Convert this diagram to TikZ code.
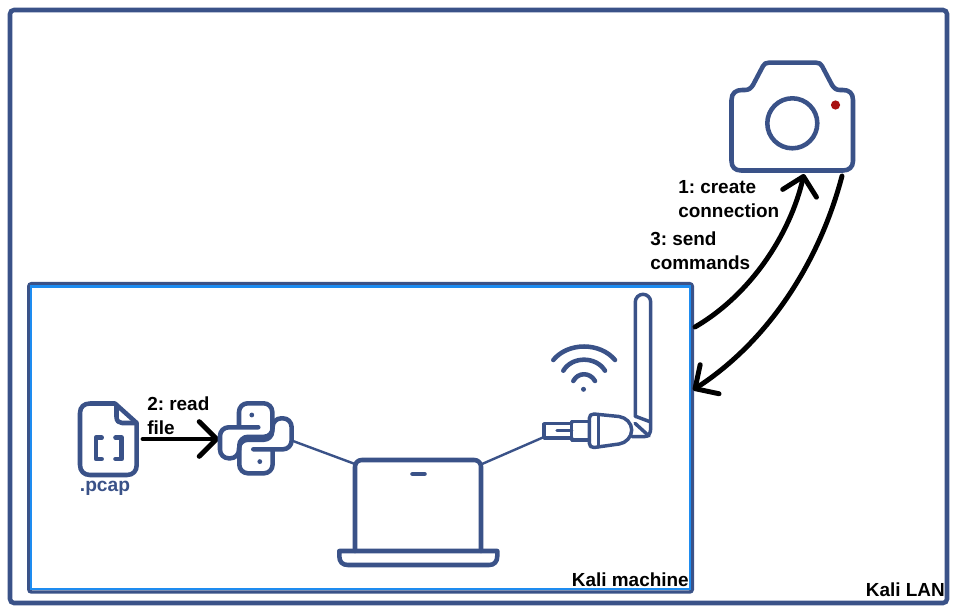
\documentclass[tikz,border=0pt]{standalone}
\usepackage{fontspec}
\setmainfont{Liberation Sans}
\usetikzlibrary{arrows.meta}
\definecolor{navy}{HTML}{3A5288}
\definecolor{brightblue}{HTML}{1E8CF0}
\definecolor{reddot}{HTML}{A81212}
\tikzset{
  icon/.style={draw=navy,line width=3.4pt,line cap=round,line join=round},
  thinicon/.style={draw=navy,line width=2.6pt,line cap=round,line join=round},
  link/.style={draw=navy,line width=1.8pt},
  flow/.style={draw=black,line width=3.7pt,line cap=round,-{Straight Barb[length=13pt,width=26pt,round]}},
  lbl/.style={font=\bfseries\fontsize{14.2}{18}\selectfont,inner sep=0pt,text=black},
}
\begin{document}
\frenchspacing
\begin{tikzpicture}[x=0.75pt,y=-0.75pt]
\useasboundingbox (0,0) rectangle (956,614);
\fill[white] (0,0) rectangle (956,614);
% outer LAN frame
\draw[draw=navy,line width=3.4pt,rounded corners=3pt] (10,10) rectangle (947,603);
% Kali machine frame
\draw[draw=navy,line width=2.6pt,rounded corners=2pt] (28.8,283.7) rectangle (692.3,592);
\draw[draw=brightblue,line width=1.8pt] (31,286.3) rectangle (690,589);
% named anchors
\coordinate (camL) at (804,174);
\coordinate (camR) at (842,176);
\coordinate (boxA) at (695,327);
\coordinate (boxB) at (693,390);
\coordinate (pcapR) at (143,439);
\coordinate (pyL) at (219,439);
\coordinate (pyR) at (293,441);
\coordinate (lapL) at (355,464);
\coordinate (lapR) at (482,464);
\coordinate (adapt) at (544,437);
% camera
\draw[icon] (731.5,161) -- (731.5,100) .. controls (731.5,93) and (736,90) .. (742,90)
  -- (745,90) .. controls (749,90) and (751,88) .. (753,85) -- (763,66)
  .. controls (764.5,63.5) and (766,62.7) .. (769,62.7) -- (816,62.7)
  .. controls (819,62.7) and (820.5,63.5) .. (822,66) -- (832,85)
  .. controls (834,88) and (836,90) .. (840,90) -- (843,90)
  .. controls (849,90) and (853,93) .. (853,100) -- (853,161)
  .. controls (853,167) and (849,170.5) .. (843,170.5) -- (741,170.5)
  .. controls (735,170.5) and (731.5,167) .. (731.5,161) -- cycle;
\draw[icon] (792.3,123.3) circle (25);
\fill[reddot] (835.5,105) circle (4.6);
% arrows 1 and 3
\draw[flow] (boxA) .. controls (750,295) and (790,235) .. (camL);
\draw[flow] (camR) .. controls (820,260) and (770,340) .. (boxB);
% pcap file
\draw[icon] (115,403.5) -- (90,403.5) .. controls (84,403.5) and (80,407) .. (80,413) -- (80,465)
  .. controls (80,471) and (84,475) .. (90,475) -- (127,475)
  .. controls (133,475) and (136.7,471) .. (136.7,465) -- (136.7,423) -- cycle;
\draw[icon] (116.5,405) -- (116.5,417) .. controls (116.5,421) and (119,423) .. (122,423) -- (135,423);
\draw[icon] (101.7,437.7) -- (96,437.7) -- (96,459) -- (101.7,459);
\draw[icon] (115.5,437.7) -- (121.7,437.7) -- (121.7,459) -- (115.5,459);
\node[font=\bfseries\fontsize{14.4}{16}\selectfont,text=navy,inner sep=0pt] (pcaplabel) at (105,488) {.pcap};
% arrow 2
\draw[flow] (pcapR) -- (pyL);
% python logo
\begin{scope}[shift={(255.8,438.3)}]
  \foreach \r in {0,180}{
    \begin{scope}[rotate=\r]
      \draw[icon,rounded corners=6.5pt] (2.5,-11) -- (-35.8,-11) -- (-35.8,20) -- (-16.8,20) -- (-16.8,1.5) -- (16.5,1.5) -- (16.5,-35) -- (-16.8,-35) -- (-16.8,-11);
      \fill[navy] (-4,-23.3) circle (2.4);
    \end{scope}
  }
\end{scope}
% links
\draw[link] (pyR) -- (lapL);
\draw[link] (lapR) -- (adapt);
% laptop
\draw[icon,rounded corners=5pt] (355,551) -- (355,460) -- (481,460) -- (481,551);
\draw[icon] (339.3,551) -- (497.3,551) -- (497.3,556) .. controls (497.3,562) and (494,565) .. (489,565)
  -- (348,565) .. controls (342.5,565) and (339.3,562) .. (339.3,556) -- cycle;
\draw[navy,line width=3.4pt,line cap=round] (412.5,474) -- (424.5,474);
% usb adapter
\draw[thinicon] (635.3,416.7) -- (635.3,302) arc[start angle=180,end angle=360,radius=7.7] -- (650.7,428)
  .. controls (650.7,433) and (649,436.7) .. (644,436.7) -- (632,436.7);
\draw[thinicon] (636,416.5) -- (650,421.7);
\draw[thinicon] (635,423.3) -- (649,436);
\draw[thinicon] (594,414) -- (619,416.5) .. controls (626,417.5) and (631.7,423) .. (631.7,430)
  .. controls (631.7,437) and (626,443) .. (619,444) -- (594,447.5)
  .. controls (591,447.7) and (589.3,446) .. (589.3,443) -- (589.3,418.5)
  .. controls (589.3,415.5) and (591,414) .. (594,414) -- cycle;
\draw[thinicon] (598.3,415) -- (598.3,447);
\draw[thinicon] (589.3,421.7) -- (571.7,421.7) -- (571.7,440) -- (589.3,440);
\draw[thinicon] (571.7,423.7) -- (544,423.7) -- (544,438) -- (571.7,438);
\draw[thinicon] (557,430.7) -- (571.7,430.7);
% wifi
\fill[navy] (583.5,389.3) circle (2.5);
\draw[icon] (573.3,381) .. controls (578,372) and (590,372) .. (595,381);
\draw[icon] (563.3,370.7) .. controls (572,356) and (596,356) .. (605,370.7);
\draw[icon] (553.3,360) .. controls (568,342) and (600,342) .. (615,360);
% labels
\node[lbl,anchor=west] (l1a) at (678,187) {1: create};
\node[lbl,anchor=west] (l1b) at (678,211) {connection};
\node[lbl,anchor=west] (l3a) at (650,239) {3: send};
\node[lbl,anchor=west] (l3b) at (650,263) {commands};
\node[lbl,anchor=west] (l2a) at (147,404) {2: read};
\node[lbl,anchor=west] (l2b) at (147,428) {file};
\node[lbl,anchor=east] (machine) at (689,580) {Kali machine};
\node[lbl,anchor=east] (lan) at (945,590) {Kali LAN};
\end{tikzpicture}
\end{document}
